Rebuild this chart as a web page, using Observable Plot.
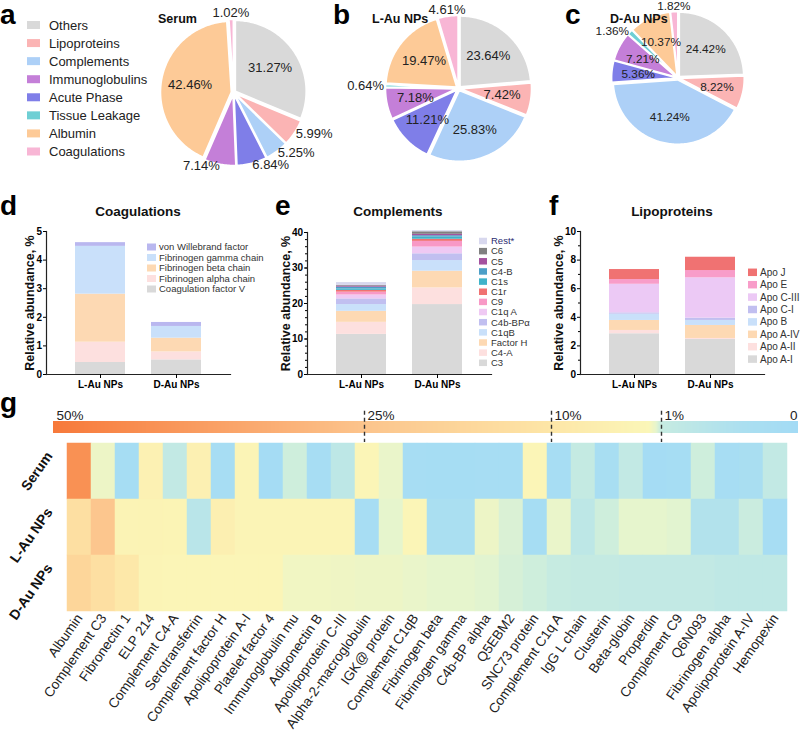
<!DOCTYPE html>
<html><head><meta charset="utf-8">
<script src="https://cdn.jsdelivr.net/npm/d3@7"></script>
<script src="https://cdn.jsdelivr.net/npm/@observablehq/plot@0.6"></script>
<style>
body{margin:0;background:#fff;font-family:"Liberation Sans",Arial,sans-serif;}
#fig{position:relative;width:800px;height:733px;overflow:hidden;background:#fff;}
#fig > div{position:absolute;}
</style></head><body><div id="fig"></div>
<script>
// ---------- data ----------
const pieCategories = ["Others","Lipoproteins","Complements","Immunoglobulins","Acute Phase","Tissue Leakage","Albumin","Coagulations"];
const pieColors = ["#d9d9d9","#fbb4b4","#add0f7","#c47fd8","#7f7ee8","#6fcfd4","#fdca97","#f8b6d5"];
const pieSliceOrder = ["Others","Lipoproteins","Complements","Acute Phase","Immunoglobulins","Tissue Leakage","Albumin","Coagulations"];
const serumPie = [31.27, 5.99, 5.25, 6.84, 7.14, 0, 42.46, 1.02];
const lAuPie = [23.64, 7.42, 25.83, 11.21, 7.18, 0.64, 19.47, 4.61];
const dAuPie = [24.42, 8.22, 41.24, 5.36, 7.21, 1.36, 10.37, 1.82];
const pieTitles = ["Serum","L-Au NPs","D-Au NPs"];

const samples = ["L-Au NPs","D-Au NPs"];
const coagProteins = ["Coagulation factor V","Fibrinogen alpha chain","Fibrinogen beta chain","Fibrinogen gamma chain","von Willebrand factor"];
const coagLAu = [0.42, 0.71, 1.68, 1.67, 0.13];
const coagDAu = [0.51, 0.28, 0.48, 0.41, 0.14];
const coagColors = ["#d9d9d9","#fde0df","#fdd9b3","#c9e0fa","#b9b7ef"];

const complProteins = ["C3","C4-A","Factor H","C1qB","C4b-BPα","C1q A","C9","C1r","C1s","C4-B","C5","C6","Rest*"];
const complLAu = [11.3, 3.4, 3.1, 1.9, 1.6, 1.1, 0.8, 0.5, 0.4, 0.5, 0.3, 0.2, 0.8];
const complDAu = [19.7, 4.7, 4.7, 3.0, 1.9, 1.9, 1.6, 0.6, 0.6, 0.4, 0.4, 0.7, 0.3];
const complColors = ["#d9d9d9","#fde0df","#fdd9b3","#c9e0fa","#c1bff0","#efc9f3","#f899c6","#f07272","#3fb3c9","#4d9fc7","#a4529f","#808080","#d8d8ee"];

const lipoProteins = ["Apo A-I","Apo A-II","Apo A-IV","Apo B","Apo C-I","Apo C-III","Apo E","Apo J"];
const lipoLAu = [2.85, 0.23, 0.70, 0.44, 0.09, 2.00, 0.33, 0.70];
const lipoDAu = [2.45, 0.07, 0.91, 0.35, 0.16, 2.82, 0.51, 0.93];
const lipoColors = ["#d9d9d9","#fde0df","#fdd9b3","#c9e0fa","#c1bff0","#ecc9f5","#f89dc9","#f07272"];

const heatProteins = ["Albumin","Complement C3","Fibronectin 1","ELP 214","Complement C4-A","Serotransferrin","Complement factor H","Apolipoprotein A-I","Platelet factor 4","Immunoglobulin mu","Adiponectin B","Apolipoprotein C-III","Alpha-2-macroglobulin","IGK@ protein","Complement C1qB","Fibrinogen beta","Fibrinogen gamma","C4b-BP alpha","Q5EBM2","SNC73 protein","Complement C1q A","IgG L chain","Clusterin","Beta-globin","Properdin","Complement C9","Q6N093","Fibrinogen alpha","Apolipoprotein A-IV","Hemopexin"];
const heatSamples = ["Serum","L-Au NPs","D-Au NPs"];
const heatSerum = [42, 1.6, 0.15, 4.5, 0.9, 5, 0.2, 3, 0.1, 1.1, 0.2, 0.8, 2.5, 1.5, 0.2, 0.15, 0.15, 0.2, 0.2, 2.5, 0.2, 0.95, 0.25, 0.9, 0.1, 0.15, 1.1, 0.2, 0.3, 0.9];
const heatLAu = [13, 24, 3.5, 3.5, 3.2, 0.7, 5.5, 3.0, 3.0, 2.8, 2.8, 2.8, 0.2, 1.4, 2.5, 0.35, 0.35, 1.6, 1.25, 0.15, 1.5, 0.8, 1.1, 1.4, 1.4, 1.35, 0.55, 0.55, 1.05, 0.2];
const heatDAu = [17, 13, 9, 2.8, 2.7, 2.6, 2.6, 2.5, 2.4, 1.7, 1.7, 1.65, 1.6, 1.6, 1.5, 1.4, 1.4, 1.35, 1.2, 1.1, 1.0, 0.95, 0.95, 0.9, 0.9, 0.9, 0.9, 0.85, 0.85, 0.85];
const colorStops = [0, 0.4, 1, 1.4, 2, 10, 25, 50];
const colorStopColors = ["#a3dbf5","#abdff0","#c6ebe1","#e6f5cd","#fbf6b8","#fde6a7","#fcc48c","#f7793a"];
const colorbarTicks = [50, 25, 10, 1, 0];
const colorbarTickLabels = ["50%","25%","10%","1%","0"];

// ---------- helpers ----------
const FONT = "'Liberation Sans',Arial,sans-serif";
const baseStyle = `background:transparent;overflow:visible;font-family:${FONT};`;
const fig = document.getElementById("fig");
function place(node, left, top) {
  const d = document.createElement("div");
  d.style.left = left + "px"; d.style.top = top + "px";
  d.appendChild(node); fig.appendChild(d);
}

// ---------- pies ----------
function piePlot(values, threshold) {
  const R = 71, S = 270, half = S / 2 / R;
  const arcs = d3.pie().sort(null).value(d => d)(values);
  const polys = [], labels = [];
  arcs.forEach((a, i) => {
    if (a.data <= 0) return;
    const cat = pieSliceOrder[i];
    const mid = (a.startAngle + a.endAngle) / 2;
    const ex = 0.03, ox = ex * Math.sin(mid), oy = ex * Math.cos(mid);
    polys.push({cat, x: ox, y: oy});
    const n = Math.max(2, Math.ceil((a.endAngle - a.startAngle) / 0.02));
    for (let k = 0; k <= n; k++) {
      const t = a.startAngle + (a.endAngle - a.startAngle) * k / n;
      polys.push({cat, x: ox + Math.sin(t), y: oy + Math.cos(t)});
    }
    polys.push({cat, x: ox, y: oy});
    const s = Math.sin(mid), c = Math.cos(mid);
    const inside = a.data >= threshold;
    const anchor = inside ? "middle" : (s > 0.15 ? "start" : s < -0.15 ? "end" : "middle");
    const rr = inside ? 0.62 : (anchor === "middle" ? 1.12 : 1.05);
    labels.push({x: rr * s, y: rr * c, text: a.data.toFixed(2) + "%", anchor});
  });
  const textOpts = a => ({x: "x", y: "y", text: "text", fontSize: 13, fill: "#222", textAnchor: a});
  return Plot.plot({
    width: S, height: S, margin: 0,
    x: {domain: [-half, half], axis: null}, y: {domain: [-half, half], axis: null},
    color: {domain: pieCategories, range: pieColors},
    style: baseStyle,
    marks: [
      Plot.line(polys, {x: "x", y: "y", z: "cat", fill: "cat", stroke: "white", strokeWidth: 1.8, curve: "linear"}),
      ...["start", "middle", "end"].map(a => Plot.text(labels.filter(l => l.anchor === a), textOpts(a)))
    ]
  });
}
const S = 270;
place(piePlot(serumPie, 10), 233 - S / 2, 92 - S / 2);
place(piePlot(lAuPie, 5), 458 - S / 2, 88 - S / 2);
place(piePlot(dAuPie, 2), 690 - S / 2, 90 - S / 2);

// ---------- stacked bars ----------
function barPlot({proteins, lau, dau, colors, yMax, ticks, minor, dxLabel, marginLeft, marginTop}) {
  const data = [];
  proteins.forEach((p, i) => data.push({sample: samples[0], protein: p, value: lau[i]}));
  proteins.forEach((p, i) => data.push({sample: samples[1], protein: p, value: dau[i]}));
  const marks = [
    Plot.barY(data, {x: "sample", y: "value", fill: "protein"}),
    Plot.frame({anchor: "left", stroke: "#222", strokeWidth: 1.2}),
    Plot.frame({anchor: "bottom", stroke: "#222", strokeWidth: 1.2}),
    Plot.axisY({ticks, tickSize: 3, tickPadding: 1.5, fontSize: 10, fontWeight: "bold", label: null, tickFormat: d => String(d)}),
    Plot.axisX({tickSize: 4, tickPadding: 2, fontSize: 10, fontWeight: "bold", label: null}),
    Plot.text(["Relative abundance, %"], {text: d => d, frameAnchor: "left", textAnchor: "middle", dx: dxLabel, rotate: -90, fontSize: 12.5, fontWeight: "bold", fill: "#111"})
  ];
  if (minor) marks.push(Plot.axisY({ticks: minor, tickSize: 2, tickFormat: () => "", label: null}));
  return Plot.plot({
    width: marginLeft + 184 + 4, height: 194, marginLeft, marginRight: 4, marginTop, marginBottom: 20,
    x: {domain: samples, paddingInner: 0.338, paddingOuter: 0.364},
    y: {domain: [0, yMax]},
    color: {domain: proteins, range: colors},
    style: baseStyle,
    marks
  });
}
place(barPlot({proteins: coagProteins, lau: coagLAu, dau: coagDAu, colors: coagColors, yMax: 5, ticks: [0,1,2,3,4,5], minor: null, dxLabel: -17, marginLeft: 46, marginTop: 31}), 0, 200);
place(barPlot({proteins: complProteins, lau: complLAu, dau: complDAu, colors: complColors, yMax: 40, ticks: [0,10,20,30,40], minor: d3.range(0, 41, 2), dxLabel: -22, marginLeft: 47, marginTop: 32}), 260, 200);
place(barPlot({proteins: lipoProteins, lau: lipoLAu, dau: lipoDAu, colors: lipoColors, yMax: 10, ticks: [0,2,4,6,8,10], minor: d3.range(1, 10, 2), dxLabel: -22, marginLeft: 47, marginTop: 31}), 533, 200);

// ---------- heatmap ----------
const heatRows = [heatSerum, heatLAu, heatDAu];
const heatData = [];
heatSamples.forEach((s, si) => heatProteins.forEach((p, i) => heatData.push({sample: s, protein: p, value: heatRows[si][i]})));
const colorScale = {type: "linear", domain: colorStops, range: colorStopColors};
place(Plot.plot({
  width: 800, height: 291, marginLeft: 53, marginRight: 0, marginTop: 0, marginBottom: 122,
  x: {domain: heatProteins, padding: 0}, y: {domain: heatSamples, padding: 0, axis: null},
  color: colorScale,
  style: baseStyle,
  marks: [
    Plot.cell(heatData, {x: "protein", y: "sample", fill: "value", stroke: "value", strokeWidth: 0.5, inset: 0}),
    Plot.axisX({tickRotate: -55, tickSize: 0, tickPadding: 4, fontSize: 13.6, label: null, fill: "#222"}),
    Plot.text(heatSamples, {y: d => d, text: d => d, frameAnchor: "left", textAnchor: "end", rotate: -55, dx: -4, dy: -18, fontSize: 14, fontWeight: "bold", fill: "#111"})
  ]
}), 0, 442);

// colour bar (legend of the heatmap colour scale)
const cbRange = [53, 364, 551, 661, 798];
const pixToVal = d3.scaleLinear().domain(cbRange).range(colorbarTicks);
const cb = d3.range(53, 798, 1).map(p => ({x1: pixToVal(p), x2: pixToVal(Math.min(798, p + 1.6)), c: pixToVal(p + 0.5)}));
place(Plot.plot({
  width: 800, height: 45, marginLeft: 0, marginRight: 0, marginTop: 21, marginBottom: 12,
  x: {type: "linear", domain: colorbarTicks, range: cbRange, axis: null},
  y: {domain: [0, 1], axis: null},
  color: colorScale,
  style: baseStyle,
  marks: [
    Plot.rect(cb, {x1: "x1", x2: "x2", y1: () => 0, y2: () => 1, fill: "c"}),
    Plot.ruleX(colorbarTicks.slice(1, 4), {x: d => d, y1: () => 1.85, y2: () => -0.75, stroke: "#333", strokeWidth: 1.4, strokeDasharray: "4,3"}),
    Plot.text(colorbarTicks.slice(0, 4), {x: d => d, y: () => 1, text: (d, i) => colorbarTickLabels[i], textAnchor: "start", lineAnchor: "bottom", dx: 3, dy: -2, fontSize: 13.5, fill: "#222"}),
    Plot.text(colorbarTicks.slice(4), {x: d => d, y: () => 1, text: () => colorbarTickLabels[4], textAnchor: "end", lineAnchor: "bottom", dx: -1, dy: -2, fontSize: 13.5, fill: "#222"})
  ]
}), 0, 400);

// ---------- annotations: panel letters, titles, legends ----------
const svg = d3.select(fig).append("div").style("left", "0px").style("top", "0px").style("pointer-events", "none")
  .append("svg").attr("width", 800).attr("height", 733).style("font-family", FONT).style("overflow", "visible");
const letters = [["a",0,24],["b",333,24],["c",565,24],["d",0,215],["e",275,215],["f",549,215],["g",0,412]];
svg.selectAll("text.letter").data(letters).join("text").attr("class", "letter")
  .attr("x", d => d[1]).attr("y", d => d[2]).text(d => d[0])
  .attr("font-size", 28).attr("font-weight", "bold").attr("fill", "#000");
const pieTitlePos = [[158, 23], [372, 23], [610, 23]];
svg.selectAll("text.pt").data(pieTitles).join("text").attr("class", "pt")
  .attr("x", (d, i) => pieTitlePos[i][0]).attr("y", (d, i) => pieTitlePos[i][1]).text(d => d)
  .attr("font-size", 12.5).attr("font-weight", "bold").attr("fill", "#111");
const barTitles = [["Coagulations", 138], ["Complements", 398], ["Lipoproteins", 672]];
svg.selectAll("text.bt").data(barTitles).join("text").attr("class", "bt")
  .attr("x", d => d[1]).attr("y", 216).attr("text-anchor", "middle").text(d => d[0])
  .attr("font-size", 13.5).attr("font-weight", "bold").attr("fill", "#111");

function legend(items, colors, x, y0, step, sw, sh, tx, fs, fill) {
  const g = svg.append("g");
  items.forEach((t, i) => {
    const y = y0 + i * step;
    g.append("rect").attr("x", x).attr("y", y - sh / 2).attr("width", sw).attr("height", sh).attr("fill", colors[i]);
    g.append("text").attr("x", tx).attr("y", y).attr("dy", "0.35em").attr("font-size", fs).attr("fill", typeof fill === "function" ? fill(t) : fill).text(t);
  });
}
legend(pieCategories, pieColors, 27, 25, 18.07, 13, 8, 49, 13, "#222");
legend(coagProteins.slice().reverse(), coagColors.slice().reverse(), 147, 247, 10.5, 9, 7, 159, 9.5, "#333");
legend(complProteins.slice().reverse(), complColors.slice().reverse(), 479, 241, 10.15, 8, 6.5, 491, 9.5, t => t === "Rest*" ? "#2a2a70" : "#333");
legend(lipoProteins.slice().reverse(), lipoColors.slice().reverse(), 748, 272.3, 12.4, 9, 7.5, 760, 10, "#333");
</script></body></html>
